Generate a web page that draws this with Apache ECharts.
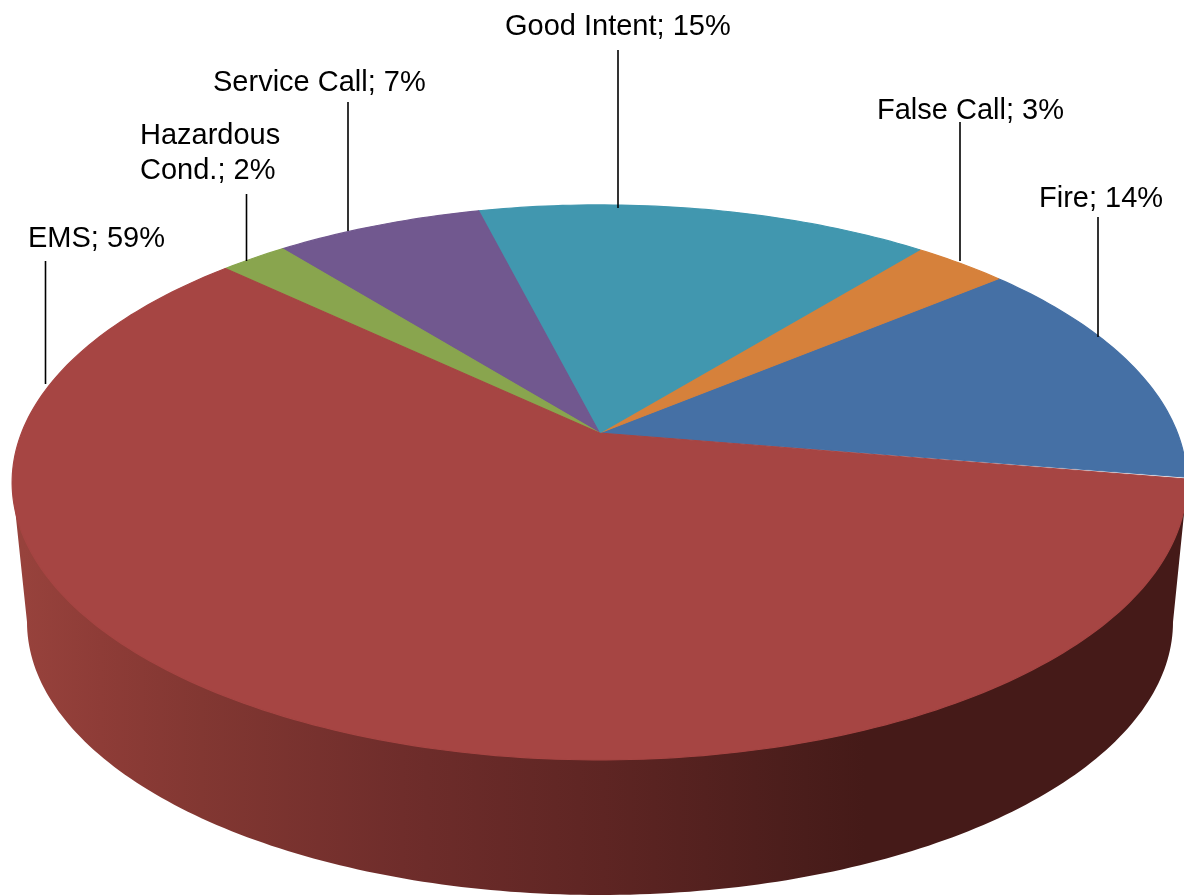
<!DOCTYPE html>
<html>
<head>
<meta charset="utf-8">
<style>html,body{margin:0;padding:0;background:#fff}#c{width:1184px;height:896px}</style>
<script src="https://cdn.jsdelivr.net/npm/echarts@6/dist/echarts.min.js"></script>
</head>
<body>
<div id="c"></div>
<script>
// Data, counter-clockwise from the Fire / EMS boundary
const categories = ['Fire', 'False Call', 'Good Intent', 'Service Call', 'Hazardous\nCond.', 'EMS'];
const sharePercent = [13.6, 3.1, 14.8, 6.8, 2.2, 59.4];
const sliceColors = ['#4570A5', '#D6813B', '#4197AF', '#71588F', '#89A54E', '#A64543'];

// Drawing configuration
const START_DEG = -9.2;
const top3d = { x: 599.5, y: 433, R: 578, S: 268.7, k: -0.178 };
const base3d = { x: 600, y: 622, a: 573, b: 273 };
const wallStops = [
  [0.02, '#97423C'], [0.085, '#8E3C37'], [0.17, '#823732'], [0.34, '#6F2D2B'],
  [0.51, '#5E2523'], [0.68, '#4A1D1B'], [0.73, '#451A18'], [1, '#451A18']
];
const annotations = [
  { lineX: 1098, lineTop: 217, lineEnd: 337, textX: 1039, textY: 181 },
  { lineX: 960, lineTop: 122, lineEnd: 261, textX: 877, textY: 93 },
  { lineX: 618, lineTop: 50, lineEnd: 208, textX: 505, textY: 9 },
  { lineX: 348, lineTop: 102, lineEnd: 231, textX: 213, textY: 65 },
  { lineX: 246.5, lineTop: 194, lineEnd: 261, textX: 140, textY: 118 },
  { lineX: 45.5, lineTop: 261, lineEnd: 384, textX: 28, textY: 221 }
];

function rim(deg) {
  const t = deg * Math.PI / 180, ux = Math.cos(t), uy = -Math.sin(t);
  const w = 1 + top3d.k * uy;
  return [top3d.x + top3d.R * ux / w, top3d.y + top3d.S * uy / w];
}

function cumulativeStart(index) {
  let sum = 0;
  for (let i = 0; i < index; i++) sum += sharePercent[i];
  return START_DEG + sum * 3.6;
}

function renderSlice(params, api) {
  const i = params.dataIndex;
  const value = api.value(0);
  const from = cumulativeStart(i);
  const to = from + value * 3.6;
  const pts = [[top3d.x, top3d.y]];
  const steps = Math.ceil(to - from);
  for (let s = 0; s <= steps; s++) pts.push(rim(from + (to - from) * s / steps));

  const children = [];
  // The slice crossing the front of the disc carries the visible outer wall.
  if (from < 270 && to > 270) {
    const wall = [];
    for (let d = 0; d <= 180; d += 1) {
      const t = d * Math.PI / 180;
      wall.push([base3d.x + base3d.a * Math.cos(t), base3d.y + base3d.b * Math.sin(t)]);
    }
    wall.push(rim(190), rim(349));
    children.push({
      type: 'polygon', z2: 0, shape: { points: wall },
      style: { fill: new echarts.graphic.LinearGradient(0, 0, 1184, 0, wallStops.map(s => ({ offset: s[0], color: s[1] })), true) }
    });
  }
  children.push({
    type: 'polygon', z2: 5, shape: { points: pts },
    style: { fill: sliceColors[i], stroke: sliceColors[i], lineWidth: 1.2, lineJoin: 'round' }
  });
  const a = annotations[i];
  children.push({
    type: 'line', z2: 8,
    shape: { x1: a.lineX, y1: a.lineTop, x2: a.lineX, y2: a.lineEnd },
    style: { stroke: '#000', lineWidth: 1.6 }
  });
  children.push({
    type: 'text', z2: 9,
    style: {
      text: categories[i] + '; ' + Math.round(value) + '%',
      x: a.textX, y: a.textY, fill: '#000', align: 'left', verticalAlign: 'top',
      fontFamily: '"Liberation Sans", Arial, sans-serif', fontSize: 29, lineHeight: 35
    }
  });
  return { type: 'group', children };
}

const chart = echarts.init(document.getElementById('c'), null, { renderer: 'canvas' });
chart.setOption({
  animation: false,
  backgroundColor: '#fff',
  series: [{
    type: 'custom',
    coordinateSystem: 'none',
    renderItem: renderSlice,
    clip: false,
    silent: true,
    data: categories.map((name, i) => ({ name, value: [sharePercent[i]] }))
  }]
});
</script>
</body>
</html>
